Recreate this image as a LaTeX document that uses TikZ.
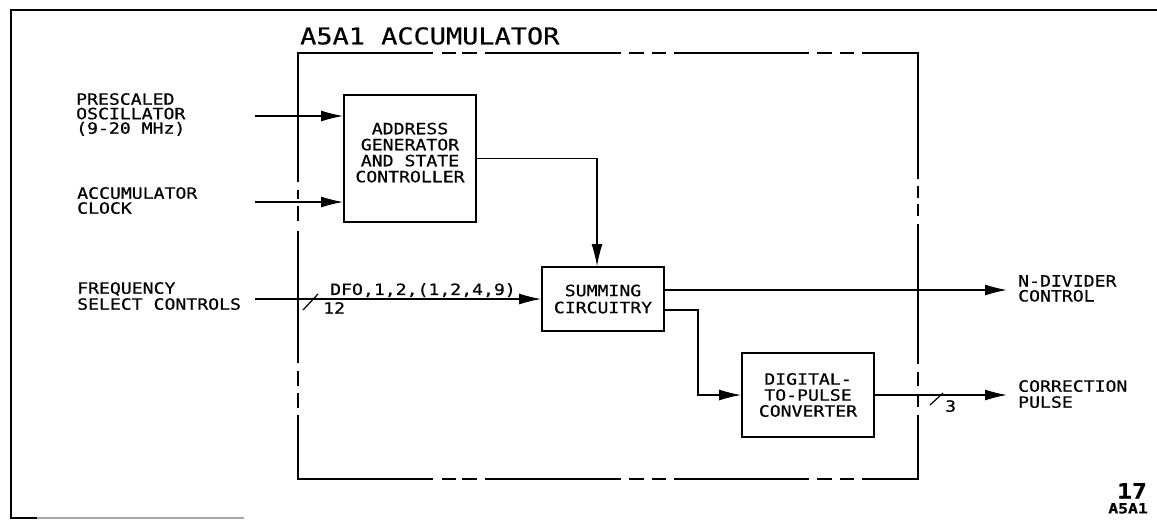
\documentclass[tikz,border=0pt]{standalone}
\usepackage{fontspec}
\newfontfamily\lett[FakeStretch=1.17,FakeBold=0.6]{DejaVu Sans Mono}
\usetikzlibrary{arrows.meta,calc}
\begin{document}
\begin{tikzpicture}[x=1pt,y=-1pt,
  txt/.style={font=\lett\fontsize{15.5}{15}\selectfont, inner sep=0pt, align=left, anchor=north west},
  blk/.style={draw, line width=1.8pt, font=\lett\fontsize{15.5}{16}\selectfont, align=center, inner sep=0pt},
  wire/.style={line width=1.2pt},
  arr/.style={wire, -{Latex[length=22pt,width=11pt]}},
  frame/.style={line width=2pt},
  edge/.style={line width=2pt, line cap=rect}
]
\useasboundingbox (0,0) rectangle (1157,520);
% outer frame
\draw[frame] (1157,10) -- (11,10) -- (11,518) -- (37,518);
\draw[frame, black!35] (37,518) -- (244,518);
% accumulator box (phantom line)
\foreach \a/\b in {298/432,443/455,463/476,486/620,630/643,653/665,675/808,818/831,841/853,863/918}
  {\draw[edge] (\a,53) -- (\b,53); \draw[edge] (\a,479) -- (\b,479);}
\foreach \a/\b in {53/178,187/197,205/215,225/363,373/385,395/406,416/479}
  {\draw[edge] (918,\a) -- (918,\b);}
\foreach \a/\b in {53/181,191/198,207/220,232/362,372/385,394/407,416/479}
  {\draw[edge] (298,\a) -- (298,\b);}
\node[txt, font=\lett\fontsize{23}{23}\selectfont] (title) at (300,27) {A5A1 ACCUMULATOR};
% blocks
\node[blk, minimum width=132pt, minimum height=127pt] (addr) at (410,158.5)
  {ADDRESS\\GENERATOR\\AND STATE\\CONTROLLER\rule[-12pt]{0pt}{0pt}};
\node[blk, minimum width=122pt, minimum height=64pt, font=\lett\fontsize{15.5}{17}\selectfont] (sum) at (603,299)
  {SUMMING\\CIRCUITRY};
\node[blk, minimum width=132pt, minimum height=84pt] (dtp) at (808,395)
  {DIGITAL-\\TO-PULSE\\CONVERTER};
% free ends
\coordinate (pin) at (255,116);
\coordinate (cin) at (255,202);
\coordinate (fin) at (255,299);
\coordinate (nout) at (1007,290);
\coordinate (cout) at (1007,395);
\coordinate (bend) at (698,310);
% connectors
\draw[arr] (pin) -- (pin -| addr.west);
\draw[arr] (cin) -- (cin -| addr.west);
\draw[arr] (fin) -- (sum.west);
\draw[arr] (addr.east) -| ($(sum.north)+(-6,0)$);
\draw[arr] ($(sum.east)+(0,-9)$) -- (nout);
\draw[arr] ($(sum.east)+(0,11)$) -- (bend) |- (dtp.west);
\draw[arr] (dtp.east) -- (cout);
% bus slashes
\draw[wire] (303,310) -- (318,294);
\draw[wire] (930,405) -- (943,393);
% labels
\node[txt, font=\lett\fontsize{15.5}{14.5}\selectfont] (l1) at (76,93) {PRESCALED\\OSCILLATOR\\(9-20 MHz)};
\node[txt] (l2) at (77,187) {ACCUMULATOR\\CLOCK};
\node[txt, font=\lett\fontsize{15.5}{16}\selectfont] (l3) at (77,282) {FREQUENCY\\SELECT CONTROLS};
\node[txt] (l4) at (1018,275) {N-DIVIDER\\CONTROL};
\node[txt, font=\lett\fontsize{15.5}{16}\selectfont] (l5) at (1018,380) {CORRECTION\\PULSE};
\node[txt] (dfo) at (330,283) {DFO,1,2,(1,2,4,9)};
\node[txt] (n12) at (323,302) {12};
\node[txt] (n3) at (945,400) {3};
\node[txt, anchor=north east, font=\lett\bfseries\fontsize{21}{21}\selectfont] (fig) at (1147,483) {17};
\node[txt, anchor=north east, font=\lett\bfseries\fontsize{14}{14}\selectfont] (fig2) at (1148,503) {A5A1};
\end{tikzpicture}
\end{document}
